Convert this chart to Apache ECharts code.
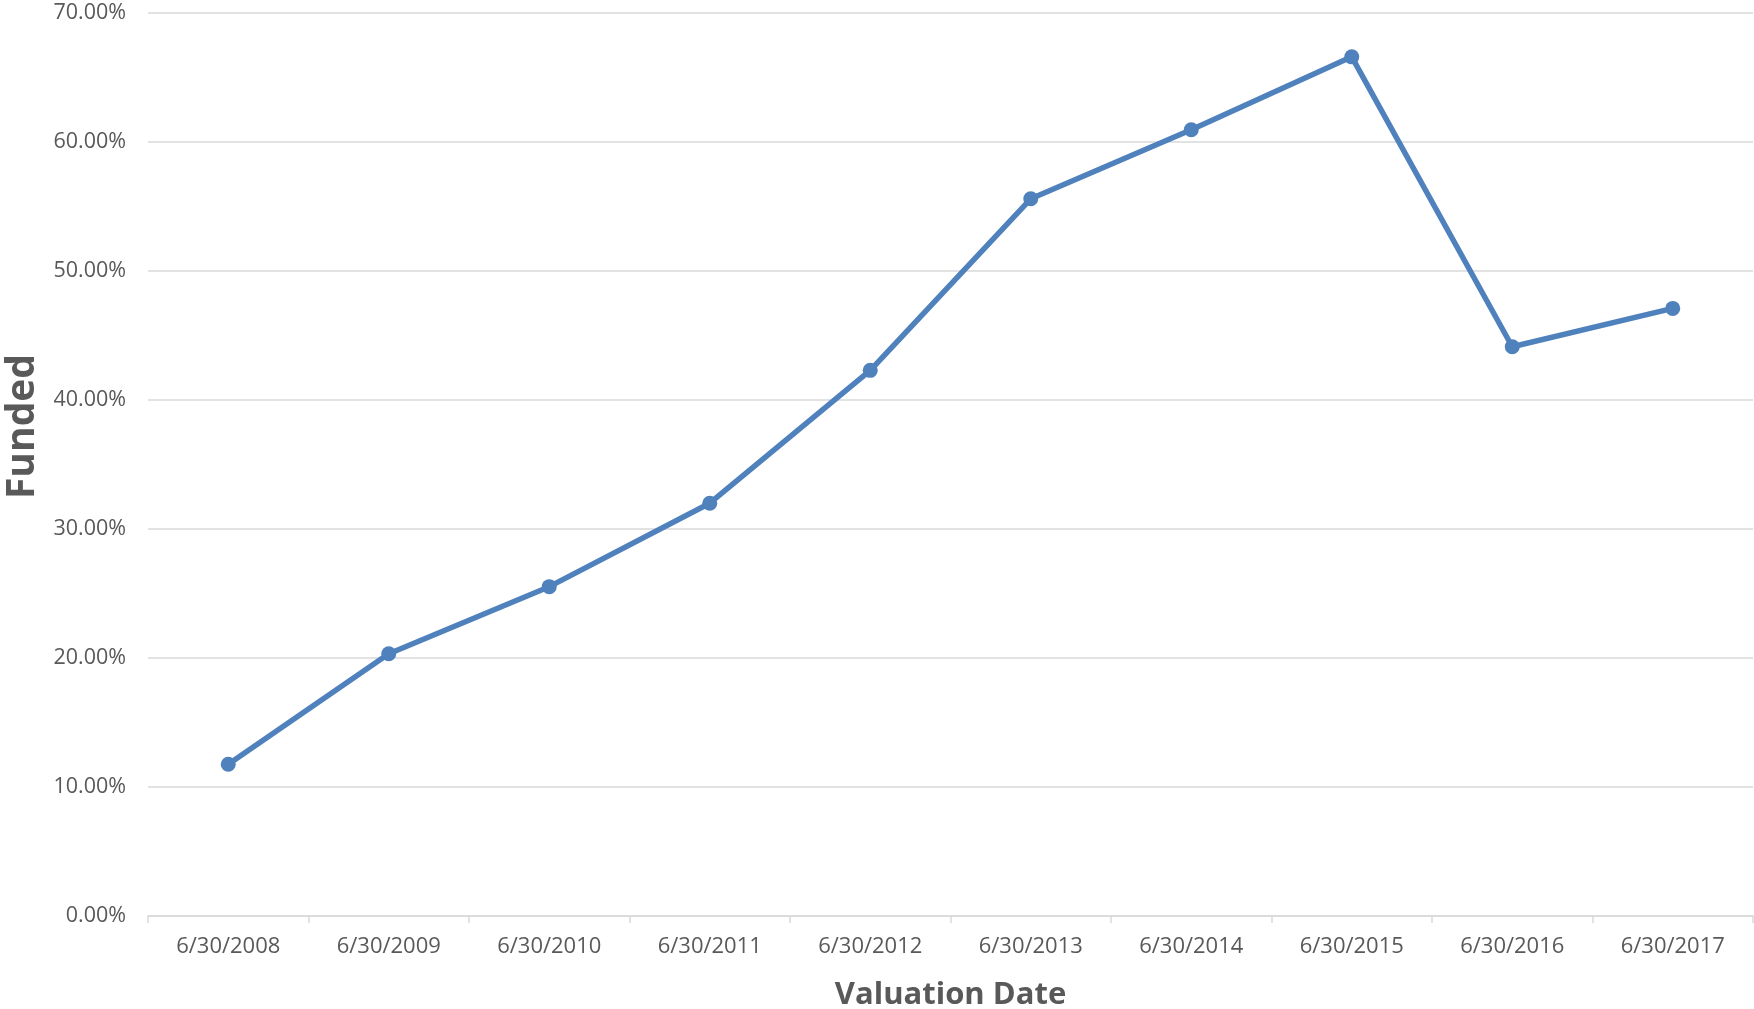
<!DOCTYPE html>
<html>
<head>
<meta charset="utf-8">
<script src="https://cdn.jsdelivr.net/npm/echarts@6/dist/echarts.min.js"></script>
<style>
html,body{margin:0;padding:0;background:#fff;overflow:hidden;}
#chart{width:1754px;height:1009px;}
</style>
</head>
<body>
<div id="chart"></div>
<script>
const categories = ['6/30/2008','6/30/2009','6/30/2010','6/30/2011','6/30/2012','6/30/2013','6/30/2014','6/30/2015','6/30/2016','6/30/2017'];
const fundedValues = [0.1176, 0.2033, 0.2553, 0.3200, 0.4230, 0.5560, 0.6095, 0.6660, 0.4413, 0.4710];
const yTicks = { min: 0, max: 0.7, interval: 0.1 };
const xTitle = 'Valuation Date';
const yTitle = 'Funded';

const font = '"Open Sans", "Liberation Sans", sans-serif';
const chart = echarts.init(document.getElementById('chart'));
chart.setOption({
  animation: false,
  backgroundColor: '#ffffff',
  grid: { left: 148, right: 1, top: 13, bottom: 93, containLabel: false, outerBoundsMode: 'none' },
  xAxis: {
    type: 'category',
    data: categories,
    boundaryGap: true,
    name: xTitle,
    nameLocation: 'middle',
    nameGap: 64,
    nameTextStyle: { fontFamily: font, fontSize: 31, fontWeight: 'bold', color: '#595959' },
    axisLine: { show: true, lineStyle: { color: '#d9d9d9', width: 1.5 } },
    axisTick: { show: true, alignWithLabel: false, length: 7, lineStyle: { color: '#d9d9d9', width: 1.5 } },
    axisLabel: { fontFamily: font, fontSize: 22, color: '#595959', margin: 20, interval: 0 },
    splitLine: { show: false }
  },
  yAxis: {
    type: 'value',
    min: yTicks.min,
    max: yTicks.max,
    interval: yTicks.interval,
    name: yTitle,
    nameLocation: 'middle',
    nameGap: 100,
    nameRotate: 90,
    nameTextStyle: { fontFamily: font, fontSize: 39, fontWeight: 'bold', color: '#595959', padding: [0, 0, 0, 76] },
    axisLine: { show: false },
    axisTick: { show: false },
    axisLabel: {
      fontFamily: font, fontSize: 21.5, color: '#595959', margin: 22,
      formatter: v => (v * 100).toFixed(2) + '%'
    },
    splitLine: { show: true, lineStyle: { color: '#d9d9d9', width: 1.5 } }
  },
  series: [{
    type: 'line',
    data: fundedValues,
    symbol: 'circle',
    symbolSize: 15,
    lineStyle: { color: '#4f81bd', width: 5.5 },
    itemStyle: { color: '#4f81bd' },
    z: 3
  }]
});
</script>
</body>
</html>
